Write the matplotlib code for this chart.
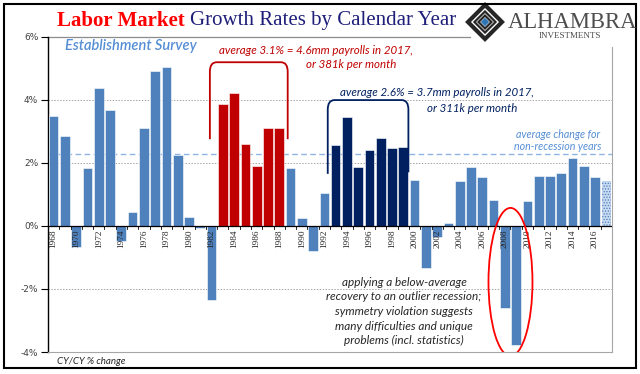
import numpy as np
import matplotlib
matplotlib.use("Agg")
import matplotlib.pyplot as plt
from matplotlib.patches import Ellipse, Polygon, Rectangle, PathPatch
from matplotlib.path import Path

# CY/CY % change in payrolls, establishment survey
years = list(range(1968, 2018))
growth = [3.49, 2.85, -0.66, 1.85, 4.38, 3.66, -0.49, 0.45, 3.12, 4.92,
          5.04, 2.26, 0.29, -0.06, -2.36, 3.88, 4.20, 2.61, 1.91, 3.12,
          3.12, 1.82, 0.25, -0.79, 1.05, 2.58, 3.44, 1.86, 2.40, 2.80,
          2.46, 2.49, 1.47, -1.34, -0.36, 0.08, 1.43, 1.88, 1.54, 0.83,
          -2.59, -3.79, 0.80, 1.58, 1.58, 1.69, 2.15, 1.90, 1.56, 1.43]
avg_nonrecession = 2.27
red_years = list(range(1983, 1989))
navy_years = list(range(1993, 2000))
partial_year = 2017

BLUE = "#4F81BD"
RED = "#C00000"
NAVY = "#002060"
LBLUE = "#558ED5"

plt.rcParams["hatch.linewidth"] = 0.6

fig = plt.figure(figsize=(6.4, 3.74), dpi=100)
ax = fig.add_axes([48 / 640, 1 - 352 / 374, 564 / 640, (352 - 36.7) / 374])

colors = []
for y in years:
    if y in red_years:
        colors.append(RED)
    elif y in navy_years:
        colors.append(NAVY)
    else:
        colors.append(BLUE)

for y, v, c in zip(years, growth, colors):
    if y == partial_year:
        ax.bar(y, v, width=0.86, color="#C6D9F1", edgecolor=BLUE, hatch="......",
               linewidth=0, zorder=3)
    else:
        ax.bar(y, v, width=0.86, color=c, edgecolor="white", linewidth=0.4, zorder=3)

ax.set_xlim(1967.5, 2017.5)
ax.set_ylim(-4, 6)

# gridlines
for g in [4, 2, -2]:
    ax.axhline(g, color="#A6A6A6", linestyle=(0, (1.5, 1.5)), linewidth=0.7, zorder=1)
ax.plot([0, (470 - 48) / 564], [1, 1], transform=ax.transAxes, color="#8C8C8C",
        linewidth=0.9, clip_on=False, zorder=1)
ax.axhline(avg_nonrecession, color="#8EB4E3", linestyle=(0, (4, 2.5)), linewidth=1.0, zorder=2)

# spines
for s in ["top", "right"]:
    ax.spines[s].set_visible(False)
ax.spines["left"].set_color("black")
ax.spines["left"].set_linewidth(1.0)
ax.spines["bottom"].set_color("#A6A6A6")
ax.spines["bottom"].set_linewidth(0.8)
ax.plot([1, 1], [0, (352 - 47) / (352 - 36.7)], transform=ax.transAxes,
        color="#A6A6A6", linewidth=0.8, clip_on=False)

# zero line with small ticks at bar boundaries
ax.axhline(0, color="black", linewidth=0.9, zorder=4)
for b in np.arange(1967.5, 2018, 1.0):
    ax.plot([b, b], [0, -0.1], color="black", linewidth=0.6, zorder=4)
for y in range(1968, 2017, 2):
    ax.text(y, -0.12, str(y), rotation=90, ha="center", va="top", fontsize=6.7,
            family="Liberation Serif", color="#262626", zorder=5)

ax.set_xticks([])
ax.set_yticks([6, 4, 2, 0, -2, -4])
ax.set_yticklabels(["6%", "4%", "2%", "0%", "-2%", "-4%"], fontsize=6.5,
                   family="DejaVu Sans", color="#404040")
ax.tick_params(axis="y", direction="out", length=5, width=0.8, pad=2)

# brackets: straight sides, rounded top corners
def bracket(x0, x1, ybot_l, ybot_r, ytop, color):
    rx, ry = 0.6, 0.3
    verts = [(x0, ybot_l), (x0, ytop - ry), (x0, ytop), (x0 + rx, ytop),
             (x1 - rx, ytop),
             (x1, ytop), (x1, ytop - ry), (x1, ybot_r)]
    codes = [Path.MOVETO, Path.LINETO, Path.CURVE3, Path.CURVE3,
             Path.LINETO,
             Path.CURVE3, Path.CURVE3, Path.LINETO]
    ax.add_patch(PathPatch(Path(verts, codes), facecolor="none", edgecolor=color,
                           linewidth=1.3, zorder=5))

bracket(1981.85, 1988.75, 2.75, 2.75, 5.19, RED)
bracket(1992.3, 1999.45, 1.65, 1.7, 3.99, NAVY)

ell = Ellipse((2008.5, -1.78), 3.9, 4.7, facecolor="none", edgecolor="#FF0000",
              linewidth=1.3, zorder=6)
ax.add_patch(ell)

# annotation texts
tfont = dict(family="Lato", style="italic")
fig.text(131 / 640, 1 - 46 / 374, "Establishment Survey", ha="center", va="center",
         fontsize=10.5, color=LBLUE, weight="semibold", **tfont)
fig.text(316 / 640, 1 - 51 / 374, "average 3.1% = 4.6mm payrolls in 2017,", ha="center",
         va="center", fontsize=8.3, color=RED, **tfont)
fig.text(351 / 640, 1 - 65 / 374, "or 381k per month", ha="center", va="center",
         fontsize=8.3, color=RED, **tfont)
fig.text(437 / 640, 1 - 93 / 374, "average 2.6% = 3.7mm payrolls in 2017,", ha="center",
         va="center", fontsize=8.3, color=NAVY, **tfont)
fig.text(472 / 640, 1 - 108 / 374, "or 311k per month", ha="center", va="center",
         fontsize=8.3, color=NAVY, **tfont)
fig.text(558 / 640, 1 - 135 / 374, "average change for", ha="center", va="center",
         fontsize=7.7, color=LBLUE, **tfont)
fig.text(558 / 640, 1 - 147 / 374, "non-recession years", ha="center", va="center",
         fontsize=7.7, color=LBLUE, **tfont)
note = ["applying a below-average", "recovery to an outlier recession;",
        "symmetry violation suggests", "many difficulties and unique",
        "problems (incl. statistics)"]
for i, line in enumerate(note):
    fig.text(404 / 640, 1 - (282 + i * 14.7) / 374, line, ha="center", va="center",
             fontsize=8.5, color="#262626", **tfont)
fig.text(57 / 640, 1 - 361 / 374, "CY/CY % change", ha="left", va="center",
         fontsize=7, color="#262626", **tfont)

# title
t1 = fig.text(57 / 640, 1 - 21 / 374, "Labor Market", ha="left", va="center",
              fontsize=15, weight="bold", color="#FF0000", family="Liberation Serif")
fig.canvas.draw()
bb = t1.get_window_extent()
fig.text(bb.x1 / 640 + 5 / 640, 1 - 21 / 374, "Growth Rates by Calendar Year", ha="left",
         va="center", fontsize=15, color="#1F1F7A", family="Liberation Serif")

# logo
lx, ly, r = 485, 22, 17
cx, cy = lx / 640, 1 - ly / 374
sx, sy = r / 640, r / 374
fig.patches.append(Polygon([(cx - sx, cy), (cx, cy + sy), (cx + sx, cy), (cx, cy - sy)],
                           closed=True, transform=fig.transFigure, facecolor="white",
                           edgecolor="#262626", linewidth=3))
for k in [0.62, 0.38]:
    fig.patches.append(Polygon([(cx - sx * k, cy), (cx, cy + sy * k), (cx + sx * k, cy),
                                (cx, cy - sy * k)], closed=True, transform=fig.transFigure,
                               facecolor="none", edgecolor="#262626", linewidth=1.6))
fig.patches.append(Polygon([(cx - sx * 0.25, cy), (cx, cy + sy * 0.25), (cx + sx * 0.25, cy),
                            (cx, cy - sy * 0.25)], closed=True, transform=fig.transFigure,
                           facecolor="#2E75B6", edgecolor="none"))
fig.text(508 / 640, 1 - 22 / 374, "ALHAMBRA", ha="left", va="center", fontsize=16.3,
         color="#4D4D4D", family="Liberation Serif")
fig.text(570 / 640, 1 - 36 / 374, "INVESTMENTS", ha="center", va="center", fontsize=6.5,
         color="#4D4D4D", family="Liberation Serif")

# outer frame
fig.patches.append(Rectangle((4 / 640, 1 - 368 / 374), 632 / 640, 364 / 374,
                             transform=fig.transFigure, facecolor="none",
                             edgecolor="black", linewidth=1.5))

fig.savefig("out.png", dpi=100)
